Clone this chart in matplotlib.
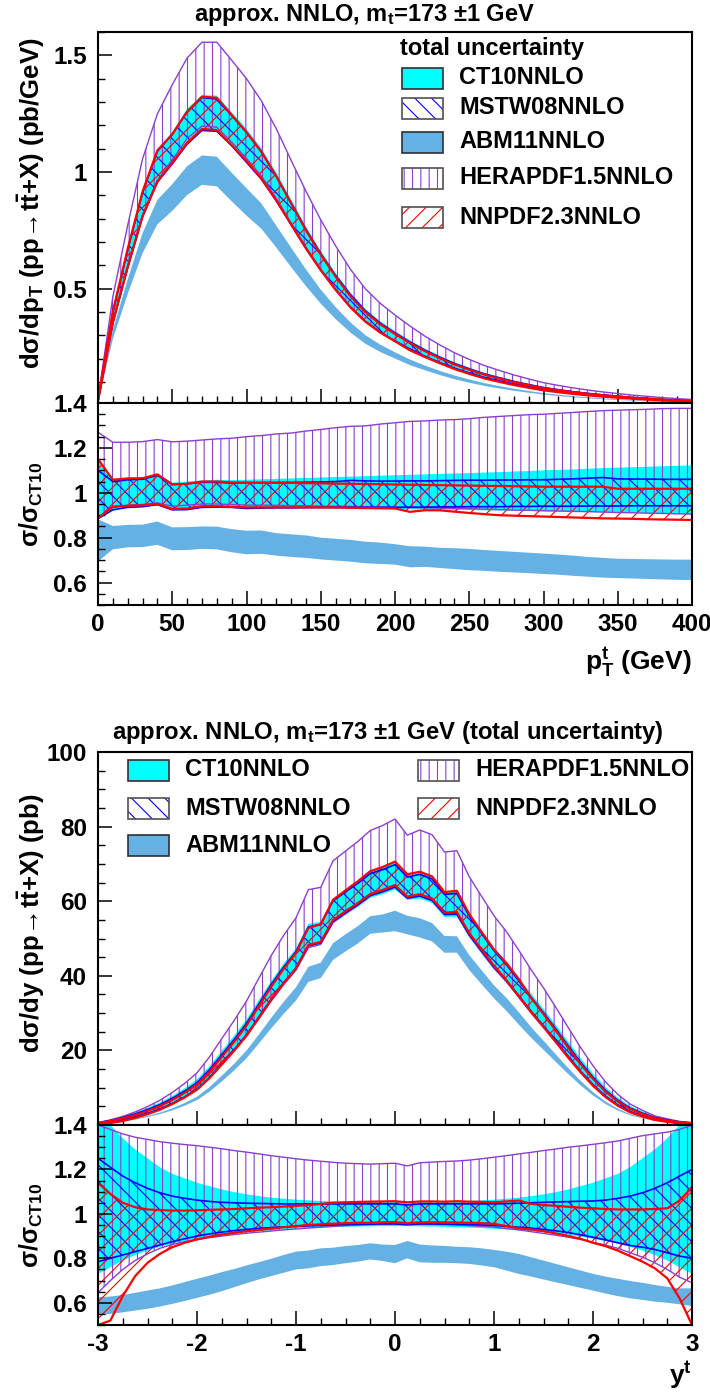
import numpy as np
import matplotlib
matplotlib.use('Agg')
import matplotlib.pyplot as plt
from matplotlib.patches import Rectangle
from matplotlib.ticker import MultipleLocator

plt.rcParams.update({
    'font.family': ['Liberation Sans', 'DejaVu Sans'],
    'font.weight': 'bold',
    'mathtext.fontset': 'custom',
    'mathtext.rm': 'Liberation Sans:bold',
    'mathtext.it': 'Liberation Sans:bold',
    'mathtext.bf': 'Liberation Sans:bold',
    'mathtext.sf': 'Liberation Sans:bold',
    'axes.unicode_minus': False,
    'hatch.linewidth': 0.8,
})

################################################################################
# Data: top-quark pT distribution (values at pT = 0, 10, ..., 400 GeV)
################################################################################
PT = np.arange(0, 401, 10)

# CT10 central prediction, pb/GeV
ct10_pt = [0.02, 0.38, 0.63, 0.86, 1.01, 1.12, 1.21, 1.26, 1.255, 1.19, 1.12,
           1.04, 0.94, 0.83, 0.72, 0.62, 0.53, 0.45, 0.385, 0.335, 0.295,
           0.258, 0.225, 0.196, 0.17, 0.148, 0.128, 0.112, 0.097, 0.084, 0.072,
           0.063, 0.055, 0.048, 0.042, 0.037, 0.032, 0.028, 0.024, 0.021, 0.018]

# uncertainty bands as ratio to CT10 central
ct10_lo_pt = [0.885, 0.925, 0.935, 0.937, 0.945, 0.925, 0.93, 0.94, 0.94, 0.937, 0.935,
              0.935, 0.934, 0.934, 0.933, 0.932, 0.931, 0.93, 0.929, 0.928, 0.927,
              0.926, 0.925, 0.925, 0.924, 0.923, 0.922, 0.921, 0.92, 0.919, 0.917,
              0.916, 0.915, 0.914, 0.913, 0.912, 0.911, 0.91, 0.908, 0.907, 0.905]
ct10_hi_pt = [1.14, 1.06, 1.065, 1.068, 1.085, 1.045, 1.05, 1.055, 1.058, 1.056, 1.058,
              1.06, 1.062, 1.064, 1.066, 1.068, 1.07, 1.072, 1.074, 1.076, 1.078,
              1.08, 1.082, 1.084, 1.086, 1.088, 1.09, 1.092, 1.095, 1.097, 1.1,
              1.102, 1.104, 1.107, 1.11, 1.112, 1.114, 1.116, 1.118, 1.12, 1.122]
mstw_lo_pt = [0.885, 0.924, 0.935, 0.938, 0.947, 0.924, 0.925, 0.935, 0.936, 0.935, 0.93,
              0.932, 0.933, 0.933, 0.934, 0.934, 0.935, 0.935, 0.935, 0.935, 0.935,
              0.936, 0.936, 0.937, 0.937, 0.938, 0.938, 0.938, 0.939, 0.939, 0.94,
              0.94, 0.94, 0.941, 0.941, 0.941, 0.942, 0.942, 0.942, 0.942, 0.942]
mstw_hi_pt = [1.10, 1.05, 1.058, 1.06, 1.078, 1.037, 1.04, 1.047, 1.046, 1.044, 1.045,
              1.045, 1.046, 1.046, 1.047, 1.048, 1.05, 1.055, 1.053, 1.052, 1.052,
              1.053, 1.053, 1.054, 1.055, 1.056, 1.056, 1.057, 1.057, 1.058, 1.058,
              1.06, 1.062, 1.065, 1.068, 1.062, 1.061, 1.061, 1.06, 1.06, 1.06]
abm_lo_pt = [0.694, 0.748, 0.757, 0.758, 0.768, 0.744, 0.745, 0.75, 0.748, 0.735, 0.726,
             0.728, 0.72, 0.714, 0.71, 0.703, 0.698, 0.693, 0.686, 0.683, 0.68,
             0.668, 0.67, 0.665, 0.66, 0.655, 0.652, 0.648, 0.645, 0.642, 0.638,
             0.635, 0.63, 0.626, 0.622, 0.62, 0.618, 0.616, 0.614, 0.612, 0.611]
abm_hi_pt = [0.882, 0.852, 0.857, 0.858, 0.872, 0.846, 0.847, 0.85, 0.849, 0.838, 0.831,
             0.832, 0.82, 0.815, 0.81, 0.8, 0.795, 0.79, 0.782, 0.778, 0.771,
             0.762, 0.76, 0.755, 0.753, 0.75, 0.745, 0.741, 0.737, 0.733, 0.729,
             0.725, 0.72, 0.714, 0.71, 0.706, 0.705, 0.704, 0.703, 0.702, 0.702]
hera_lo_pt = [0.89, 0.935, 0.945, 0.948, 0.955, 0.94, 0.945, 0.95, 0.95, 0.948, 0.945,
              0.945, 0.944, 0.943, 0.942, 0.941, 0.94, 0.939, 0.938, 0.937, 0.935,
              0.934, 0.933, 0.932, 0.93, 0.929, 0.927, 0.925, 0.923, 0.922, 0.92,
              0.919, 0.917, 0.916, 0.914, 0.912, 0.911, 0.909, 0.908, 0.906, 0.905]
hera_hi_pt = [1.27, 1.225, 1.225, 1.228, 1.237, 1.227, 1.23, 1.235, 1.24, 1.243, 1.25,
              1.255, 1.262, 1.266, 1.275, 1.282, 1.29, 1.296, 1.298, 1.306, 1.312,
              1.318, 1.32, 1.324, 1.326, 1.33, 1.336, 1.34, 1.344, 1.348, 1.35,
              1.354, 1.358, 1.362, 1.366, 1.368, 1.37, 1.372, 1.375, 1.376, 1.376]
nnpdf_lo_pt = [0.885, 0.938, 0.942, 0.944, 0.95, 0.928, 0.93, 0.94, 0.94, 0.937, 0.935,
               0.935, 0.935, 0.935, 0.935, 0.935, 0.934, 0.933, 0.932, 0.931, 0.93,
               0.915, 0.922, 0.922, 0.916, 0.91, 0.905, 0.9, 0.898, 0.896, 0.894,
               0.892, 0.89, 0.888, 0.886, 0.885, 0.884, 0.882, 0.881, 0.88, 0.879]
nnpdf_hi_pt = [1.15, 1.058, 1.064, 1.065, 1.082, 1.037, 1.04, 1.05, 1.05, 1.046, 1.045,
               1.045, 1.044, 1.044, 1.043, 1.042, 1.041, 1.04, 1.039, 1.038, 1.037,
               1.036, 1.035, 1.034, 1.033, 1.032, 1.031, 1.03, 1.029, 1.028, 1.027,
               1.027, 1.027, 1.027, 1.027, 1.018, 1.018, 1.018, 1.018, 1.018, 1.018]

################################################################################
# Data: top-quark rapidity distribution (values at y = -3, -2.875, ..., 3)
################################################################################
RAP = np.linspace(-3, 3, 49)

ct10_y = [0.45, 1.0, 1.7, 2.6, 3.7, 5.0, 6.6, 8.5, 10.7, 14.0, 17.9, 21.8, 26.0,
          31.0, 36.0, 40.5, 44.5, 50.8, 51.5, 57.5, 59.8, 62.0, 64.5, 65.5, 66.8,
          63.9, 64.3, 63.1, 59.2, 59.4, 53.6, 49.1, 44.7, 41.1, 36.9, 32.6, 28.6,
          24.4, 20.1, 15.9, 12.1, 8.8, 6.2, 4.2, 2.9, 1.8, 1.2, 0.7, 0.45]

ct10_lo_y = [0.73, 0.76, 0.79, 0.815, 0.835, 0.852, 0.866, 0.878, 0.888, 0.898, 0.905,
             0.912, 0.918, 0.922, 0.926, 0.93, 0.933, 0.936, 0.938, 0.94, 0.942, 0.943,
             0.944, 0.945, 0.945, 0.945, 0.944, 0.943, 0.942, 0.94, 0.938, 0.936, 0.933,
             0.93, 0.926, 0.922, 0.918, 0.912, 0.905, 0.898, 0.888, 0.878, 0.866, 0.852,
             0.835, 0.815, 0.79, 0.76, 0.73]
ct10_hi_y = [1.45, 1.40, 1.34, 1.29, 1.25, 1.21, 1.18, 1.16, 1.14, 1.125, 1.11,
             1.098, 1.088, 1.08, 1.073, 1.068, 1.064, 1.061, 1.058, 1.057, 1.056, 1.055,
             1.055, 1.055, 1.055, 1.055, 1.055, 1.055, 1.056, 1.057, 1.058, 1.061, 1.064,
             1.068, 1.073, 1.08, 1.088, 1.098, 1.11, 1.125, 1.14, 1.16, 1.18, 1.21,
             1.25, 1.29, 1.34, 1.40, 1.45]
mstw_lo_y = [0.785, 0.80, 0.815, 0.83, 0.845, 0.86, 0.875, 0.888, 0.9, 0.91, 0.918,
             0.925, 0.93, 0.935, 0.938, 0.941, 0.944, 0.946, 0.948, 0.95, 0.952, 0.953,
             0.954, 0.955, 0.955, 0.952, 0.955, 0.955, 0.954, 0.953, 0.952, 0.95, 0.948,
             0.944, 0.94, 0.936, 0.93, 0.924, 0.916, 0.906, 0.895, 0.883, 0.87, 0.858,
             0.85, 0.84, 0.825, 0.81, 0.80]
mstw_hi_y = [1.25, 1.21, 1.17, 1.14, 1.115, 1.095, 1.08, 1.07, 1.062, 1.056, 1.052,
             1.05, 1.048, 1.047, 1.046, 1.045, 1.045, 1.045, 1.045, 1.045, 1.045, 1.045,
             1.045, 1.045, 1.045, 1.04, 1.045, 1.045, 1.045, 1.045, 1.045, 1.045, 1.045,
             1.046, 1.048, 1.05, 1.052, 1.054, 1.055, 1.057, 1.058, 1.062, 1.07, 1.08,
             1.095, 1.115, 1.14, 1.17, 1.2]
abm_lo_y = [0.545, 0.55, 0.557, 0.565, 0.573, 0.583, 0.595, 0.608, 0.622, 0.636, 0.652,
            0.67, 0.688, 0.705, 0.72, 0.735, 0.75, 0.755, 0.765, 0.77, 0.778, 0.785,
            0.795, 0.788, 0.778, 0.8, 0.782, 0.78, 0.78, 0.778, 0.775, 0.768, 0.76,
            0.745, 0.73, 0.718, 0.705, 0.692, 0.68, 0.667, 0.655, 0.642, 0.63, 0.62,
            0.613, 0.605, 0.6, 0.593, 0.585]
abm_hi_y = [0.625, 0.628, 0.635, 0.645, 0.655, 0.665, 0.678, 0.693, 0.708, 0.722, 0.738,
            0.752, 0.768, 0.783, 0.798, 0.815, 0.83, 0.835, 0.845, 0.848, 0.855, 0.86,
            0.868, 0.862, 0.86, 0.878, 0.862, 0.858, 0.856, 0.852, 0.85, 0.845, 0.838,
            0.83, 0.82, 0.805, 0.79, 0.775, 0.76, 0.745, 0.73, 0.718, 0.708, 0.698,
            0.69, 0.68, 0.672, 0.665, 0.665]
hera_lo_y = [0.645, 0.70, 0.75, 0.79, 0.82, 0.845, 0.862, 0.875, 0.885, 0.893, 0.9,
             0.907, 0.913, 0.918, 0.923, 0.928, 0.932, 0.936, 0.94, 0.944, 0.947, 0.95,
             0.952, 0.954, 0.955, 0.95, 0.954, 0.953, 0.952, 0.95, 0.947, 0.944, 0.94,
             0.934, 0.928, 0.92, 0.912, 0.904, 0.895, 0.885, 0.872, 0.86, 0.845, 0.825,
             0.805, 0.78, 0.75, 0.715, 0.69]
hera_hi_y = [1.40, 1.38, 1.36, 1.345, 1.335, 1.325, 1.318, 1.312, 1.307, 1.30, 1.293,
             1.285, 1.278, 1.27, 1.262, 1.255, 1.248, 1.242, 1.237, 1.232, 1.228, 1.226,
             1.224, 1.226, 1.228, 1.216, 1.23, 1.233, 1.236, 1.238, 1.242, 1.248, 1.255,
             1.262, 1.27, 1.277, 1.285, 1.292, 1.3, 1.306, 1.313, 1.32, 1.328, 1.34,
             1.352, 1.36, 1.368, 1.38, 1.40]
nnpdf_lo_y = [0.5, 0.52, 0.63, 0.72, 0.78, 0.82, 0.85, 0.87, 0.885, 0.897, 0.907,
              0.915, 0.922, 0.928, 0.934, 0.94, 0.945, 0.95, 0.953, 0.956, 0.958, 0.96,
              0.96, 0.962, 0.963, 0.958, 0.962, 0.962, 0.962, 0.961, 0.96, 0.958, 0.955,
              0.945, 0.935, 0.93, 0.922, 0.912, 0.9, 0.888, 0.87, 0.855, 0.835, 0.81,
              0.785, 0.755, 0.71, 0.62, 0.5]
nnpdf_hi_y = [1.14, 1.09, 1.05, 1.03, 1.02, 1.017, 1.015, 1.015, 1.016, 1.018, 1.02,
              1.022, 1.025, 1.028, 1.03, 1.033, 1.036, 1.04, 1.045, 1.05, 1.052, 1.054,
              1.055, 1.056, 1.057, 1.052, 1.056, 1.056, 1.055, 1.057, 1.055, 1.054, 1.052,
              1.056, 1.06, 1.045, 1.04, 1.036, 1.032, 1.028, 1.025, 1.022, 1.02, 1.02,
              1.02, 1.022, 1.025, 1.06, 1.12]

################################################################################
# Styles
################################################################################
ORDER = ['ABM11NNLO', 'CT10NNLO', 'HERAPDF1.5NNLO', 'MSTW08NNLO', 'NNPDF2.3NNLO']
STYLE = {
    'CT10NNLO':       dict(color='#00ffff', hatch=None, lw=0),
    'MSTW08NNLO':     dict(color='#0000ff', hatch='\\\\', lw=1.2),
    'ABM11NNLO':      dict(color='#66b1e4', hatch=None, lw=0),
    'HERAPDF1.5NNLO': dict(color='#8c3fcc', hatch='||', lw=1.0),
    'NNPDF2.3NNLO':   dict(color='#ff0000', hatch='//', lw=1.6),
}

W, H = 710, 1395
TXT = 17
TICK = 17.5


def box(l, t, r, b):
    return [l / W, 1 - b / H, (r - l) / W, (b - t) / H]


def draw_bands(ax_m, ax_r, x, central, ratios):
    central = np.asarray(central)
    for name in ORDER:
        lo, hi = (np.asarray(v) for v in ratios[name])
        st = STYLE[name]
        for ax, l, h in ((ax_m, central * lo, central * hi), (ax_r, lo, hi)):
            if st['hatch'] is None:
                ax.fill_between(x, l, h, facecolor=st['color'], edgecolor='none', lw=0)
            else:
                ax.fill_between(x, l, h, facecolor='none', edgecolor=st['color'],
                                hatch=st['hatch'], lw=0)
                ax.plot(x, l, color=st['color'], lw=st['lw'])
                ax.plot(x, h, color=st['color'], lw=st['lw'])


def style_axis(ax, xlim, ylim, xmaj, xmin, yticks, ylabels, ymin, xlabels=True):
    ax.set_xlim(*xlim)
    ax.set_ylim(*ylim)
    ax.xaxis.set_major_locator(MultipleLocator(xmaj))
    ax.xaxis.set_minor_locator(MultipleLocator(xmin))
    ax.set_yticks(yticks)
    ax.set_yticklabels(ylabels)
    ax.yaxis.set_minor_locator(MultipleLocator(ymin))
    ax.tick_params(which='both', direction='in', top=False, right=False, labelsize=TICK)
    ax.tick_params(axis='y', which='both', pad=8)
    ax.tick_params(axis='x', which='both', pad=6)
    ax.tick_params(which='major', length=10, width=1.1)
    ax.tick_params(which='minor', length=5, width=1.0)
    if not xlabels:
        ax.tick_params(labelbottom=False)
    for sp in ax.spines.values():
        sp.set_linewidth(1.5)


def legend_entry(fig, x, y, name):
    # box: x, y = top-left in pixels, 41x21 px
    st = STYLE[name]
    xy = (x / W, 1 - (y + 21) / H)
    w, h = 41 / W, 21 / H
    if st['hatch'] is None:
        fig.add_artist(Rectangle(xy, w, h, transform=fig.transFigure,
                                 facecolor=st['color'], edgecolor='#303030', lw=1.2))
    else:
        fig.add_artist(Rectangle(xy, w, h, transform=fig.transFigure, facecolor='white',
                                 edgecolor=st['color'], hatch=st['hatch'], lw=0))
        fig.add_artist(Rectangle(xy, w, h, transform=fig.transFigure, fill=False,
                                 edgecolor='#505050', lw=1.2))


fig = plt.figure(figsize=(W / 100, H / 100), dpi=100)

ax1 = fig.add_axes(box(98, 32, 692, 403))
ax2 = fig.add_axes(box(98, 403, 692, 605))
ax3 = fig.add_axes(box(98, 752, 692, 1125))
ax4 = fig.add_axes(box(98, 1125, 692, 1325))

draw_bands(ax1, ax2, PT, ct10_pt, {
    'CT10NNLO': (ct10_lo_pt, ct10_hi_pt),
    'MSTW08NNLO': (mstw_lo_pt, mstw_hi_pt),
    'ABM11NNLO': (abm_lo_pt, abm_hi_pt),
    'HERAPDF1.5NNLO': (hera_lo_pt, hera_hi_pt),
    'NNPDF2.3NNLO': (nnpdf_lo_pt, nnpdf_hi_pt),
})
draw_bands(ax3, ax4, RAP, ct10_y, {
    'CT10NNLO': (ct10_lo_y, ct10_hi_y),
    'MSTW08NNLO': (mstw_lo_y, mstw_hi_y),
    'ABM11NNLO': (abm_lo_y, abm_hi_y),
    'HERAPDF1.5NNLO': (hera_lo_y, hera_hi_y),
    'NNPDF2.3NNLO': (nnpdf_lo_y, nnpdf_hi_y),
})

ratio_ticks = [0.6, 0.8, 1.0, 1.2, 1.4]
ratio_labels = ['0.6', '0.8', '1', '1.2', '1.4']
style_axis(ax1, (0, 400), (0.01, 1.6), 50, 10, [0.5, 1.0, 1.5], ['0.5', '1', '1.5'], 0.1,
           xlabels=False)
style_axis(ax2, (0, 400), (0.5, 1.4), 50, 10, ratio_ticks, ratio_labels, 0.05)
style_axis(ax3, (-3, 3), (0, 100), 1, 0.25, [20, 40, 60, 80, 100],
           ['20', '40', '60', '80', '100'], 5, xlabels=False)
style_axis(ax4, (-3, 3), (0.5, 1.4), 1, 0.25, ratio_ticks, ratio_labels, 0.05)

# Titles and axis labels
fig.text(364 / W, 1 - 15 / H, r'approx. NNLO, m$_{\rm t}$=173 $\pm$1 GeV',
         ha='center', va='center', size=17)
fig.text(388 / W, 1 - 733 / H,
         r'approx. NNLO, m$_{\rm t}$=173 $\pm$1 GeV (total uncertainty)',
         ha='center', va='center', size=17.2)

fig.text(31 / W, 1 - 203 / H,
         r'd$\sigma$/dp$_{\rm T}$ (pp$\!\rightarrow\!$t$\bar{\rm t}$+X) (pb/GeV)',
         rotation=90, ha='center', va='center', size=18.5)
fig.text(31 / W, 1 - 923 / H,
         r'd$\sigma$/dy (pp$\!\rightarrow\!$t$\bar{\rm t}$+X) (pb)',
         rotation=90, ha='center', va='center', size=18.5)
for yc in (504, 1225):
    fig.text(31 / W, 1 - yc / H, r'$\sigma/\sigma_{\rm CT10}$',
             rotation=90, ha='center', va='center', size=18)

fig.text(692 / W, 1 - 662 / H, r'p$^{\rm t}_{\rm T}$ (GeV)', ha='right', va='center',
         size=19)
fig.text(692 / W, 1 - 1375 / H, r'y$^{\rm t}$', ha='right', va='center', size=19)

# Legend, top panel
fig.text(400 / W, 1 - 48 / H, 'total uncertainty', ha='left', va='center', size=TXT)
for name, yc in zip(['CT10NNLO', 'MSTW08NNLO', 'ABM11NNLO', 'HERAPDF1.5NNLO', 'NNPDF2.3NNLO'],
                    [78, 108, 142, 178, 217]):
    legend_entry(fig, 402, yc - 10.5, name)
    fig.text(459 / W, 1 - yc / H, name, ha='left', va='center', size=TXT)

# Legend, bottom panel
for name, xb, xt, yc in [('CT10NNLO', 128, 185, 770), ('MSTW08NNLO', 128, 185, 808),
                         ('ABM11NNLO', 128, 185, 845), ('HERAPDF1.5NNLO', 418, 475, 770),
                         ('NNPDF2.3NNLO', 418, 475, 808)]:
    legend_entry(fig, xb, yc - 10.5, name)
    fig.text(xt / W, 1 - yc / H, name, ha='left', va='center', size=TXT)

fig.savefig('out.png', dpi=100)
